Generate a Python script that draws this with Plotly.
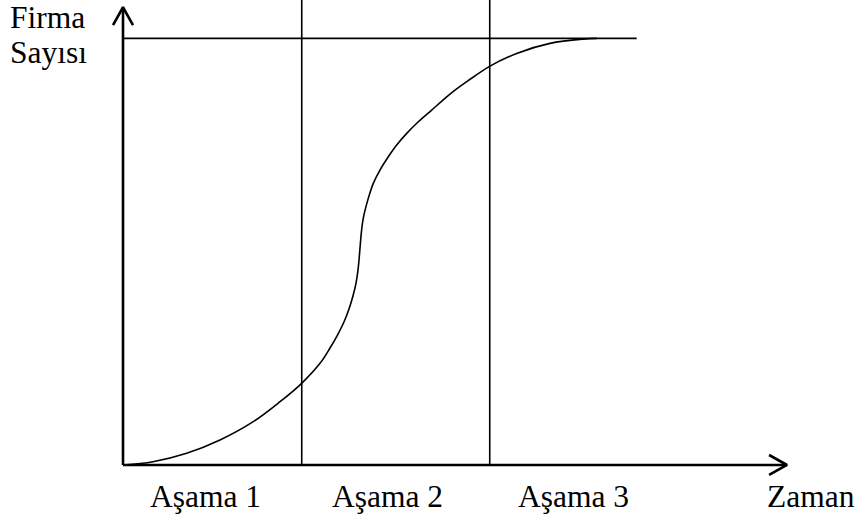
import plotly.graph_objects as go

# Data (chart units: time on x, number of firms on y; plateau = 100)
curve_time = [0, 4.53, 9.62, 14.65, 19.68, 23.72, 26.99, 29.76, 31.27, 32.40, 33.38,
              34.14, 34.74, 35.20, 35.50, 35.69, 35.85, 36.03, 36.30, 37.05, 37.81,
              38.82, 40.08, 41.34, 42.86, 44.61, 46.63, 48.64, 50.15, 52.04, 55.44,
              59.47, 64.50, 69.53, 71.56]
curve_firms = [0, 0.77, 2.74, 5.86, 10.15, 14.83, 19.15, 23.83, 27.42, 30.47, 33.51,
               36.56, 39.61, 42.65, 45.70, 48.75, 51.79, 54.84, 57.89, 62.50, 66.02,
               69.14, 72.25, 75.00, 77.74, 80.46, 83.20, 85.94, 87.88, 89.99, 93.51,
               96.48, 98.83, 99.84, 100.0]
stage_bounds = [27.0, 55.4]
plateau_level = 100.0
plateau_end = 77.6
stage_labels = ["Aşama 1", "Aşama 2", "Aşama 3"]
x_title = "Zaman"
y_title_lines = ["Firma", "Sayısı"]

X_RANGE = [-18.58, 111.18]
Y_RANGE = [-12.66, 109.0]
BLACK = "#000000"
FONT = dict(family="Liberation Serif, Times New Roman, serif", size=31.5, color=BLACK)

fig = go.Figure()

# S-curve
fig.add_trace(go.Scatter(x=curve_time, y=curve_firms, mode="lines",
                         line=dict(color=BLACK, width=1.6, shape="spline", smoothing=1.0),
                         hoverinfo="skip"))

# plateau line
fig.add_trace(go.Scatter(x=[0, plateau_end], y=[plateau_level, plateau_level], mode="lines",
                         line=dict(color=BLACK, width=1.6), hoverinfo="skip"))

# stage boundary lines
for b in stage_bounds:
    fig.add_trace(go.Scatter(x=[b, b], y=[0, Y_RANGE[1] + 2], mode="lines",
                             line=dict(color=BLACK, width=1.6), hoverinfo="skip"))

# axes with open arrowheads
fig.add_trace(go.Scatter(x=[0, 0], y=[0, 107.3], mode="lines",
                         line=dict(color=BLACK, width=2.6), hoverinfo="skip"))
fig.add_trace(go.Scatter(x=[-1.51, 0, 1.51], y=[103.1, 107.3, 103.1], mode="lines",
                         line=dict(color=BLACK, width=2.6), hoverinfo="skip"))
fig.add_trace(go.Scatter(x=[0, 100.3], y=[0, 0], mode="lines",
                         line=dict(color=BLACK, width=2.6), hoverinfo="skip"))
fig.add_trace(go.Scatter(x=[97.6, 100.3, 97.6], y=[2.34, 0, -2.34], mode="lines",
                         line=dict(color=BLACK, width=2.6), hoverinfo="skip"))

# labels
label_x = [12.5, 40.0, 68.1]
for lx, txt in zip(label_x, stage_labels):
    fig.add_annotation(x=lx, y=-7.27, text=txt, showarrow=False, xanchor="center",
                       yanchor="middle", font=FONT, borderpad=0)
fig.add_annotation(x=104.0, y=-7.27, text=x_title, showarrow=False, xanchor="center",
                   yanchor="middle", font=FONT, borderpad=0)
for ly, txt in zip([104.8, 96.8], y_title_lines):
    fig.add_annotation(x=-17.2, y=ly, text=txt, showarrow=False, xanchor="left",
                       yanchor="middle", font=FONT, borderpad=0)

fig.update_layout(
    width=859, height=519,
    margin=dict(l=0, r=0, t=0, b=0),
    paper_bgcolor="white", plot_bgcolor="white",
    showlegend=False,
    xaxis=dict(range=X_RANGE, visible=False, domain=[0, 1]),
    yaxis=dict(range=Y_RANGE, visible=False, domain=[0, 1]),
)

fig.write_html("out.html", post_script="document.body.style.margin='0';",
               config={"displayModeBar": False})
